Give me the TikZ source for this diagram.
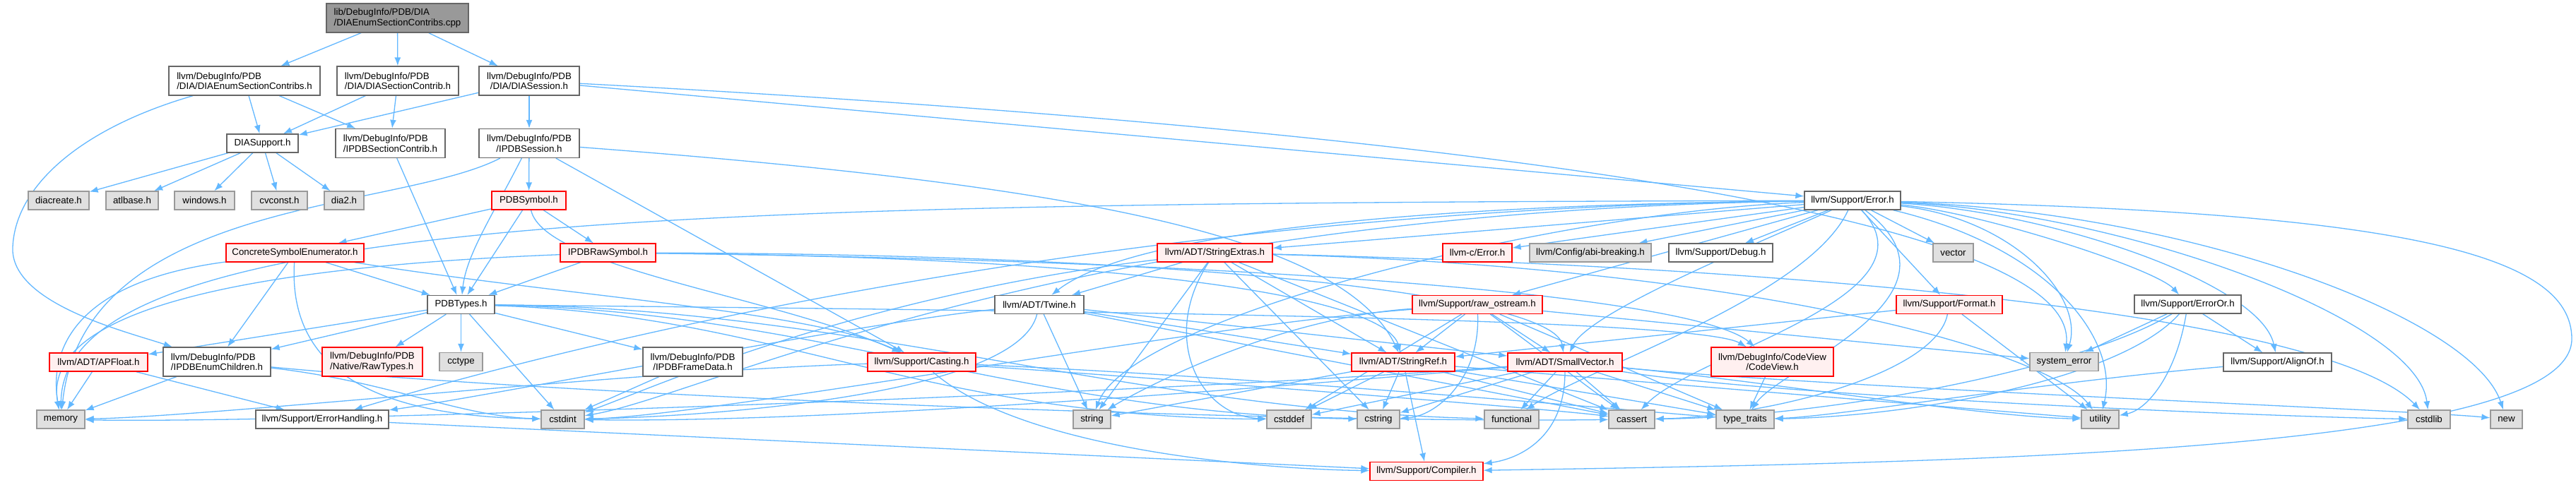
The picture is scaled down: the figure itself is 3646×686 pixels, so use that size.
\documentclass[tikz,border=0pt]{standalone}
\usepackage{fontspec}
\setmainfont{Liberation Sans}
\usetikzlibrary{arrows.meta}
\definecolor{edgec}{HTML}{63B8FF}
\definecolor{wborder}{HTML}{666666}
\definecolor{gborder}{HTML}{999999}
\definecolor{gfill}{HTML}{E0E0E0}
\definecolor{rfill}{HTML}{FFF0F0}
\definecolor{rborder}{HTML}{FF0000}
\definecolor{rootfill}{HTML}{999999}
\pgfdeclarelayer{bg}
\pgfdeclarelayer{edges}
\pgfsetlayers{bg,edges,main}
\tikzset{
  nbox/.style={rectangle, inner sep=0pt, line width=1.3pt, font=\fontsize{13.3}{14.5}\selectfont, minimum height=26pt},
  wbox/.style={nbox, draw=wborder, fill=white},
  gbox/.style={nbox, draw=gborder, fill=gfill},
  rbox/.style={nbox, draw=rborder, fill=rfill},
  rootbox/.style={nbox, draw=wborder, fill=rootfill},
  two/.style={minimum height=41pt},
  dep/.style={draw=edgec, line width=1.3pt, -{Latex[length=12pt,width=9pt]}},
}
\begin{document}
\begin{tikzpicture}[x=1pt,y=1pt]
\begin{pgfonlayer}{bg}
\fill[white] (0,0) rectangle (3646,-686);
\end{pgfonlayer}
\useasboundingbox (0,0) rectangle (3646,-686);

% nodes
\node[rootbox, two, minimum width=201pt, align=left] (root) at (562.5,-25.5) {lib/DebugInfo/PDB/DIA\\/DIAEnumSectionContribs.cpp};
\node[wbox, two, minimum width=214pt, align=left] (deh) at (346,-114.5) {llvm/DebugInfo/PDB\\/DIA/DIAEnumSectionContribs.h};
\node[wbox, two, minimum width=172pt, align=left] (dsc) at (563,-114.5) {llvm/DebugInfo/PDB\\/DIA/DIASectionContrib.h};
\node[wbox, two, minimum width=142pt, align=center] (dss) at (749,-114.5) {llvm/DebugInfo/PDB\\/DIA/DIASession.h};
\node[wbox, minimum width=101pt] (dsup) at (371.5,-203) {DIASupport.h};
\node[wbox, two, minimum width=155pt, align=left] (ipsc) at (552.5,-203) {llvm/DebugInfo/PDB\\/IPDBSectionContrib.h};
\node[wbox, two, minimum width=142pt, align=center] (ipss) at (749,-203) {llvm/DebugInfo/PDB\\/IPDBSession.h};
\node[gbox, minimum width=86pt] (diacreate) at (83,-284) {diacreate.h};
\node[gbox, minimum width=74pt] (atlbase) at (187,-284) {atlbase.h};
\node[gbox, minimum width=85pt] (windows) at (289.5,-284) {windows.h};
\node[gbox, minimum width=79pt] (cvconst) at (395.5,-284) {cvconst.h};
\node[gbox, minimum width=56pt] (dia2) at (487,-284) {dia2.h};
\node[rbox, minimum width=105pt] (pdbsym) at (748.5,-284) {PDBSymbol.h};
\node[rbox, minimum width=195pt] (cse) at (417.5,-358) {ConcreteSymbolEnumerator.h};
\node[rbox, minimum width=135pt] (iprs) at (860.5,-358) {IPDBRawSymbol.h};
\node[wbox, minimum width=95pt] (pdbt) at (652.5,-431.5) {PDBTypes.h};
\node[rbox, minimum width=139pt] (apf) at (139.5,-513) {llvm/ADT/APFloat.h};
\node[wbox, two, minimum width=152pt, align=left] (iec) at (307,-512.5) {llvm/DebugInfo/PDB\\/IPDBEnumChildren.h};
\node[rbox, two, minimum width=142pt, align=left] (rawt) at (527,-512.5) {llvm/DebugInfo/PDB\\/Native/RawTypes.h};
\node[gbox, minimum width=61pt] (cctype) at (652.5,-512.5) {cctype};
\node[wbox, two, minimum width=141pt, align=center] (ifd) at (980.5,-512.5) {llvm/DebugInfo/PDB\\/IPDBFrameData.h};
\node[gbox, minimum width=68pt] (memory) at (86,-594) {memory};
\node[wbox, minimum width=188pt] (eh) at (456,-594) {llvm/Support/ErrorHandling.h};
\node[gbox, minimum width=61pt] (cstdint) at (796.5,-594) {cstdint};
\node[rbox, minimum width=163pt] (sx) at (1719.5,-358) {llvm/ADT/StringExtras.h};
\node[wbox, minimum width=126pt] (twine) at (1471,-431.5) {llvm/ADT/Twine.h};
\node[rbox, minimum width=153pt] (cast) at (1304.5,-513) {llvm/Support/Casting.h};
\node[rbox, minimum width=146pt] (sref) at (1986,-513) {llvm/ADT/StringRef.h};
\node[gbox, minimum width=53pt] (string) at (1545.5,-594) {string};
\node[gbox, minimum width=63pt] (cstddef) at (1824.5,-594) {cstddef};
\node[gbox, minimum width=60pt] (cstring) at (1951,-594) {cstring};
\node[rbox, minimum width=160pt] (comp) at (2019,-667.5) {llvm/Support/Compiler.h};
\node[wbox, minimum width=136pt] (err) at (2622,-284) {llvm/Support/Error.h};
\node[rbox, minimum width=98pt] (cerr) at (2091,-358) {llvm-c/Error.h};
\node[gbox, minimum width=172pt] (abi) at (2251,-358) {llvm/Config/abi-breaking.h};
\node[wbox, minimum width=147pt] (dbg) at (2435.5,-358) {llvm/Support/Debug.h};
\node[gbox, minimum width=57pt] (vector) at (2764.5,-358) {vector};
\node[rbox, minimum width=184pt] (raw) at (2091,-431.5) {llvm/Support/raw\_ostream.h};
\node[rbox, minimum width=150pt] (fmt) at (2759,-431.5) {llvm/Support/Format.h};
\node[rbox, minimum width=162pt] (sv) at (2215,-513) {llvm/ADT/SmallVector.h};
\node[rbox, two, minimum width=173pt, align=center] (cv) at (2508.5,-512.5) {llvm/DebugInfo/CodeView\\/CodeView.h};
\node[gbox, minimum width=97pt] (syserr) at (2921.5,-512.5) {system\_error};
\node[gbox, minimum width=77pt] (functional) at (2139.5,-594) {functional};
\node[gbox, minimum width=65pt] (cassert) at (2309.5,-594) {cassert};
\node[gbox, minimum width=82pt] (tt) at (2470,-594) {type\_traits};
\node[gbox, minimum width=53pt] (utility) at (2972.5,-594) {utility};
\node[wbox, minimum width=151pt] (eo) at (3096.5,-431) {llvm/Support/ErrorOr.h};
\node[wbox, minimum width=153pt] (ao) at (3223.5,-513) {llvm/Support/AlignOf.h};
\node[gbox, minimum width=60pt] (cstdlib) at (3438,-594) {cstdlib};
\node[gbox, minimum width=45pt] (new) at (3547.5,-594) {new};

\coordinate (ll) at (18,-350);
\coordinate (rr) at (3640,-480);

% ---------- edges (on a layer below the nodes) ----------
\begin{pgfonlayer}{edges}
\draw[dep] (root) -- (deh);
\draw[dep] (root) -- (dsc);
\draw[dep] (root) -- (dss);
\draw[dep] (deh) -- (dsup);
\draw[dep] (deh) -- (ipsc);
\draw[dep] (deh) .. controls (120,-180) and (22,-260) .. (ll) .. controls (14,-430) and (180,-470) .. (iec);
\draw[dep] (dsc) -- (dsup);
\draw[dep] (dsc) -- (ipsc);
\draw[dep] (dss) -- (dsup);
\draw[dep] (dss) -- (ipss);
\draw[dep] (dss) -- (err);
\draw[dep] (dss) .. controls (1800,-170) and (2950,-280) .. (syserr);
\draw[dep] (dsup) -- (diacreate);
\draw[dep] (dsup) -- (atlbase);
\draw[dep] (dsup) -- (windows);
\draw[dep] (dsup) -- (cvconst);
\draw[dep] (dsup) -- (dia2);
\draw[dep] (ipsc) -- (pdbt);
\draw[dep] (ipss) -- (pdbsym);
\draw[dep] (ipss) .. controls (700,-300) and (660,-360) .. (pdbt);
\draw[dep] (ipss) .. controls (560,-300) and (120,-280) .. (memory);
\draw[dep] (ipss) -- (cast);
\draw[dep] (ipss) .. controls (1500,-260) and (1900,-330) .. (sref);
\draw[dep] (pdbsym) -- (cse);
\draw[dep] (pdbsym) -- (iprs);
\draw[dep] (pdbsym) -- (pdbt);
\draw[dep] (pdbsym) .. controls (770,-380) and (1100,-420) .. (cast);
\draw[dep] (cse) -- (pdbt);
\draw[dep] (cse) -- (iec);
\draw[dep] (cse) .. controls (800,-420) and (1150,-440) .. (cast);
\draw[dep] (cse) .. controls (405,-560) and (600,-590) .. (cstdint);
\draw[dep] (cse) .. controls (100,-400) and (70,-500) .. (memory);
\draw[dep] (iprs) -- (pdbt);
\draw[dep] (iprs) .. controls (300,-380) and (60,-450) .. (memory);
\draw[dep] (iprs) .. controls (1700,-360) and (2200,-420) .. (sv);
\draw[dep] (iprs) .. controls (1600,-365) and (1960,-420) .. (sref);
\draw[dep] (iprs) .. controls (1800,-370) and (2400,-420) .. (cv);
\draw[dep] (pdbt) -- (apf);
\draw[dep] (pdbt) -- (iec);
\draw[dep] (pdbt) -- (rawt);
\draw[dep] (pdbt) -- (cctype);
\draw[dep] (pdbt) -- (cstdint);
\draw[dep] (pdbt) -- (ifd);
\draw[dep] (pdbt) .. controls (1500,-440) and (2400,-450) .. (cv);
\draw[dep] (pdbt) .. controls (1100,-445) and (1300,-590) .. (cstddef);
\draw[dep] (pdbt) .. controls (1150,-440) and (1450,-585) .. (cstring);
\draw[dep] (pdbt) .. controls (1200,-435) and (1600,-580) .. (functional);
\draw[dep] (apf) -- (memory);
\draw[dep] (apf) -- (eh);
\draw[dep] (iec) -- (memory);
\draw[dep] (iec) .. controls (550,-540) and (650,-590) .. (cstdint);
\draw[dep] (iec) .. controls (800,-560) and (1800,-600) .. (cassert);
\draw[dep] (ifd) -- (cstdint);
\draw[dep] (eh) -- (comp);
\draw[dep] (cast) .. controls (1450,-640) and (1800,-665) .. (comp);
\draw[dep] (cast) .. controls (1700,-540) and (2200,-580) .. (cassert);
\draw[dep] (cast) .. controls (1800,-535) and (2350,-585) .. (tt);
\draw[dep] (cast) .. controls (900,-525) and (300,-590) .. (memory);
\draw[dep] (sx) -- (twine);
\draw[dep] (sx) -- (sref);
\draw[dep] (sx) -- (string);
\draw[dep] (sx) .. controls (1640,-480) and (1700,-590) .. (cstddef);
\draw[dep] (sx) -- (cstring);
\draw[dep] (sx) .. controls (1200,-420) and (900,-560) .. (cstdint);
\draw[dep] (sx) -- (cassert);
\draw[dep] (sx) .. controls (2600,-380) and (3300,-450) .. (cstdlib);
\draw[dep] (sx) .. controls (2500,-380) and (2900,-500) .. (utility);
\draw[dep] (twine) -- (sv);
\draw[dep] (twine) -- (sref);
\draw[dep] (twine) .. controls (1200,-460) and (700,-560) .. (eh);
\draw[dep] (twine) -- (cassert);
\draw[dep] (twine) .. controls (1440,-560) and (1000,-590) .. (cstdint);
\draw[dep] (twine) -- (string);
\draw[dep] (sref) -- (comp);
\draw[dep] (sref) -- (cassert);
\draw[dep] (sref) -- (cstddef);
\draw[dep] (sref) -- (cstring);
\draw[dep] (sref) -- (string);
\draw[dep] (sref) -- (tt);
\draw[dep] (sref) -- (utility);
\draw[dep] (raw) -- (sv);
\draw[dep] (raw) -- (sref);
\draw[dep] (raw) -- (cassert);
\draw[dep] (raw) -- (cstddef);
\draw[dep] (raw) .. controls (1700,-460) and (1000,-590) .. (cstdint);
\draw[dep] (raw) .. controls (2095,-540) and (2030,-590) .. (cstring);
\draw[dep] (raw) .. controls (1800,-450) and (1600,-560) .. (string);
\draw[dep] (raw) -- (syserr);
\draw[dep] (raw) -- (tt);
\draw[dep] (sv) .. controls (2215,-620) and (2150,-650) .. (comp);
\draw[dep] (sv) -- (cassert);
\draw[dep] (sv) -- (cstddef);
\draw[dep] (sv) .. controls (1900,-540) and (1200,-600) .. (cstdint);
\draw[dep] (sv) .. controls (2500,-560) and (3200,-590) .. (cstdlib);
\draw[dep] (sv) -- (cstring);
\draw[dep] (sv) -- (functional);
\draw[dep] (sv) .. controls (1600,-560) and (400,-600) .. (memory);
\draw[dep] (sv) .. controls (2600,-550) and (3400,-580) .. (new);
\draw[dep] (sv) -- (tt);
\draw[dep] (sv) .. controls (2500,-540) and (2800,-590) .. (utility);
\draw[dep] (cv) -- (tt);
\draw[dep] (fmt) -- (sref);
\draw[dep] (fmt) .. controls (2740,-530) and (2500,-590) .. (cassert);
\draw[dep] (fmt) -- (utility);
\draw[dep] (eo) -- (ao);
\draw[dep] (eo) .. controls (2950,-520) and (2600,-590) .. (cassert);
\draw[dep] (eo) -- (syserr);
\draw[dep] (eo) .. controls (3000,-540) and (2700,-590) .. (tt);
\draw[dep] (eo) .. controls (3080,-530) and (3040,-580) .. (utility);
\draw[dep] (ao) .. controls (2900,-540) and (2600,-590) .. (tt);
\draw[dep] (err) -- (cerr);
\draw[dep] (err) -- (abi);
\draw[dep] (err) -- (dbg);
\draw[dep] (err) -- (vector);
\draw[dep] (err) -- (raw);
\draw[dep] (err) -- (fmt);
\draw[dep] (err) .. controls (2800,-300) and (3050,-380) .. (eo);
\draw[dep] (err) .. controls (2900,-300) and (3200,-400) .. (ao);
\draw[dep] (err) -- (sx);
\draw[dep] (err) .. controls (2000,-290) and (1600,-330) .. (twine);
\draw[dep] (err) .. controls (2500,-340) and (2250,-440) .. (sv);
\draw[dep] (err) .. controls (2850,-310) and (2950,-420) .. (syserr);
\draw[dep] (err) .. controls (2750,-420) and (2400,-500) .. (cassert);
\draw[dep] (err) .. controls (1500,-300) and (1000,-560) .. (cstdint);
\draw[dep] (err) .. controls (3000,-300) and (3420,-450) .. (cstdlib);
\draw[dep] (err) .. controls (2560,-420) and (2250,-520) .. (functional);
\draw[dep] (err) .. controls (1000,-288) and (90,-300) .. (memory);
\draw[dep] (err) .. controls (3100,-300) and (3500,-450) .. (new);
\draw[dep] (err) .. controls (2200,-300) and (1600,-450) .. (string);
\draw[dep] (err) .. controls (2800,-420) and (2520,-520) .. (tt);
\draw[dep] (err) .. controls (2900,-350) and (3000,-480) .. (utility);
\draw[dep] (err) .. controls (3400,-300) and (3640,-360) .. (rr) .. controls (3640,-640) and (2800,-655) .. (comp);
\draw[dep] (err) .. controls (1500,-295) and (700,-520) .. (eh);
\end{pgfonlayer}
\end{tikzpicture}
\end{document}
